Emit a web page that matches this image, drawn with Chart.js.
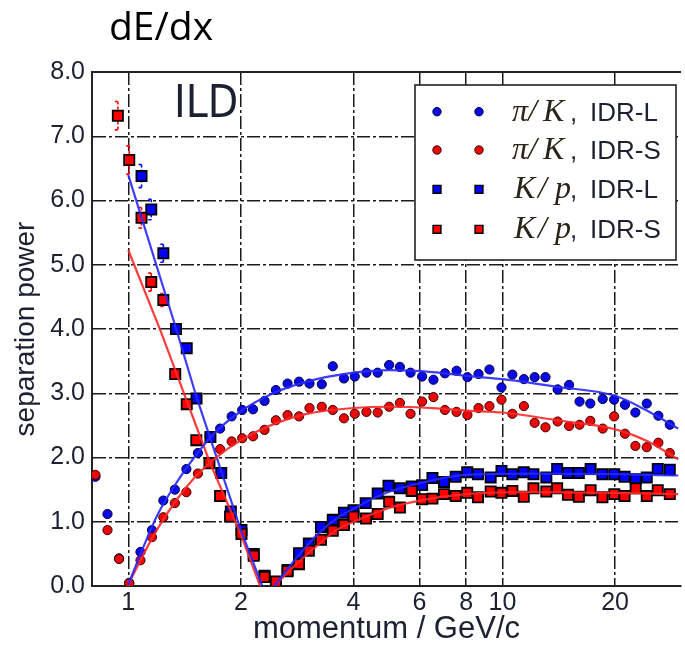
<!DOCTYPE html>
<html><head><meta charset="utf-8">
<script src="https://cdn.jsdelivr.net/npm/chart.js@4.4.0/dist/chart.umd.min.js"></script>
<style>html,body{margin:0;padding:0;background:#fff;overflow:hidden;width:685px;height:653px}canvas{display:block}</style>
</head><body>
<canvas id="c" width="690" height="653"></canvas>
<script>
// ---------- data ----------
const xTickValues = [1, 2, 4, 6, 8, 10, 20];
const xTickLabels = ['1', '2', '4', '6', '8', '10', '20'];
const yTickValues = [0, 1, 2, 3, 4, 5, 6, 7, 8];

// pi/K separation, circles
const piK_momentum = [0.817,0.880,0.945,1.006,1.078,1.157,1.241,1.332,1.430,1.535,1.648,1.760,1.889,2.016,2.155,2.313,2.480,2.665,2.860,3.050,3.290,3.520,3.770,4.030,4.330,4.640,4.980,5.320,5.680,6.100,6.540,7.020,7.540,8.060,8.630,9.230,9.940,10.63,11.41,12.19,13.03,14.04,15.07,16.07,17.17,18.53,19.88,21.25,22.66,24.30,26.10,28.00];
const piK_IDR_L = [1.70,1.12,0.43,0.05,0.53,0.87,1.33,1.50,1.82,2.07,2.33,2.45,2.64,2.74,2.75,2.88,3.05,3.15,3.18,3.15,3.14,3.42,3.23,3.26,3.32,3.32,3.44,3.41,3.32,3.26,3.21,3.31,3.35,3.25,3.30,3.37,3.09,3.29,3.22,3.25,3.25,3.06,3.13,2.87,2.84,2.91,2.90,2.82,2.70,2.84,2.65,2.51];
const piK_IDR_S = [1.73,0.87,0.42,0.04,0.40,0.76,1.07,1.29,1.46,1.75,1.92,2.13,2.25,2.30,2.33,2.43,2.58,2.66,2.64,2.77,2.79,2.74,2.61,2.68,2.71,2.70,2.79,2.85,2.68,2.87,2.94,2.74,2.71,2.66,2.77,2.80,2.90,2.68,2.80,2.54,2.47,2.56,2.49,2.51,2.57,2.45,2.64,2.37,2.18,2.16,2.23,2.07];

// K/p separation, squares
const Kp_L_momentum = [1.085,1.152,1.241,1.341,1.433,1.522,1.658,1.772,1.880,2.007,2.164,2.313,2.481,2.665,2.860,3.038,3.273,3.520,3.770,4.000,4.310,4.640,4.960,5.320,5.720,6.100,6.500,6.980,7.500,8.050,8.600,9.300,9.940,10.63,11.40,12.10,13.10,14.00,14.96,16.00,17.20,18.50,19.90,21.20,22.70,24.30,26.00,28.00];
const Kp_IDR_L = [6.38,5.86,5.18,4.00,3.70,2.92,2.32,1.76,1.16,0.87,0.50,0.16,0.05,0.25,0.51,0.66,0.92,1.03,1.14,1.18,1.29,1.44,1.56,1.52,1.55,1.57,1.68,1.62,1.70,1.77,1.74,1.69,1.79,1.74,1.77,1.74,1.69,1.82,1.76,1.76,1.82,1.74,1.74,1.70,1.66,1.69,1.82,1.81];
const Kp_IDR_L_err = [0.18,0.16,0.14,0.07];
const Kp_S_momentum = [0.938,1.006,1.085,1.152,1.241,1.335,1.433,1.520,1.648,1.760,1.871,2.007,2.164,2.313,2.481,2.665,2.860,3.038,3.273,3.520,3.770,4.000,4.320,4.640,4.980,5.320,5.720,6.100,6.500,6.980,7.500,8.050,8.600,9.300,9.940,10.63,11.40,12.10,13.10,14.00,14.96,16.00,17.20,18.50,19.90,21.20,22.70,24.30,26.00,28.00];
const Kp_IDR_S = [7.32,6.63,5.73,4.73,4.45,3.30,2.83,2.27,1.91,1.40,1.08,0.81,0.47,0.14,0.07,0.23,0.34,0.55,0.72,0.86,0.95,1.08,1.05,1.12,1.31,1.22,1.48,1.35,1.36,1.43,1.40,1.45,1.38,1.47,1.45,1.48,1.39,1.52,1.47,1.52,1.42,1.39,1.49,1.38,1.43,1.40,1.52,1.40,1.49,1.43];
const Kp_IDR_S_err = [0.22,0.22,0.16,0.14,0.10];

// fitted curves
const piK_fit_momentum = [1.0,1.1,1.2,1.35,1.5,1.7,2.0,2.4,3.0,4.0,5.0,6.5,8.0,10,14,20,24.5,29.5];
const piK_fit_L = [0.02,0.62,1.12,1.62,2.00,2.38,2.72,2.98,3.18,3.32,3.36,3.33,3.27,3.22,3.10,2.96,2.72,2.45];
const piK_fit_S = [0.02,0.50,0.90,1.35,1.68,1.98,2.27,2.50,2.68,2.77,2.79,2.77,2.73,2.70,2.58,2.44,2.25,1.97];
const Kp_fall_L_momentum = [1.0,1.34,1.52,2.0,2.28];
const Kp_fall_L = [6.40,4.02,2.95,0.87,0];
const Kp_fall_S_momentum = [1.0,1.22,1.65,2.0,2.25];
const Kp_fall_S = [5.23,3.97,1.93,0.80,0];
const Kp_rise_momentum = [2.46,2.8,3.2,3.6,4.0,4.5,5.0,6.0,8.0,12,20,29.5];
const Kp_rise_L = [0,0.42,0.80,1.05,1.20,1.36,1.47,1.60,1.73,1.75,1.74,1.72];
const Kp_rise_S = [0,0.33,0.63,0.87,1.00,1.12,1.22,1.33,1.43,1.46,1.45,1.43];

const legendLabels = [
  {math:['π','/','K'], text:'IDR-L'},
  {math:['π','/','K'], text:'IDR-S'},
  {math:['K','/','p'], text:'IDR-L'},
  {math:['K','/','p'], text:'IDR-S'}
];

// ---------- styles ----------
const BLUE = '#0a0ae6', RED = '#e80808';
const LBLUE = 'rgba(40,40,255,0.9)', LRED = 'rgba(255,40,40,0.9)';
const TXT = '#1d2030';
const SANS = "'Liberation Sans', Arial, sans-serif";

function pts(xs, ys) { return xs.map((x, i) => ({x: x, y: ys[i]})); }

function lineDS(xs, ys, color, smooth) {
  return {data: pts(xs, ys), showLine: true, pointRadius: 0, pointHoverRadius: 0,
    borderColor: color, borderWidth: 2.2, tension: smooth ? 0.4 : 0,
    cubicInterpolationMode: smooth ? 'monotone' : 'default', fill: false};
}
function markDS(xs, ys, fill, edge, style, r, bw, errs) {
  return {data: pts(xs, ys), showLine: false, pointStyle: style, pointRadius: r,
    pointHoverRadius: r, pointBackgroundColor: fill, pointBorderColor: edge,
    pointBorderWidth: bw, errors: errs || [], errColor: fill};
}

const markerStyles = [
  {style: 'circle', fill: BLUE, edge: '#00003a'},
  {style: 'circle', fill: RED, edge: '#3a0000'},
  {style: 'rect', fill: '#0000ff', edge: '#000'},
  {style: 'rect', fill: '#ff0000', edge: '#000'}
];

const overlay = {
  id: 'overlay',
  beforeDatasetsDraw(chart) {
    const ctx = chart.ctx, xs = chart.scales.x, ys = chart.scales.y;
    ctx.save();
    chart.data.datasets.forEach(ds => {
      (ds.errors || []).forEach((e, i) => {
        if (!e) return;
        const p = ds.data[i];
        const px = xs.getPixelForValue(p.x);
        const y1 = ys.getPixelForValue(p.y + e), y2 = ys.getPixelForValue(p.y - e);
        ctx.strokeStyle = ds.errColor; ctx.lineWidth = 1.6;
        ctx.setLineDash([3, 2]);
        ctx.beginPath(); ctx.moveTo(px, y1); ctx.lineTo(px, y2); ctx.stroke();
        ctx.setLineDash([]);
        ctx.beginPath();
        ctx.moveTo(px - 3, y1); ctx.lineTo(px, y1);
        ctx.moveTo(px - 3, y2); ctx.lineTo(px, y2);
        ctx.stroke();
      });
    });
    ctx.restore();
  },
  afterDraw(chart) {
    const ctx = chart.ctx, a = chart.chartArea;
    ctx.save();
    ctx.strokeStyle = '#222'; ctx.lineWidth = 2;
    ctx.beginPath(); ctx.moveTo(a.left, a.top); ctx.lineTo(a.right, a.top); ctx.stroke();

    ctx.fillStyle = '#000';
    ctx.textBaseline = 'alphabetic'; ctx.textAlign = 'left';
    ctx.font = "39px 'Open Sans', 'Liberation Sans', sans-serif";
    ctx.fillText('dE/dx', 109, 40);
    ctx.fillStyle = TXT;
    ctx.font = "300 44px 'Liberation Sans Narrow', 'DejaVu Sans Condensed', 'Liberation Sans', sans-serif";
    ctx.fillText('ILD', 174, 117);

    // legend
    const bx = 415, by = 85, bw = 261, bh = 175;
    ctx.fillStyle = '#fff'; ctx.fillRect(bx, by, bw, bh);
    ctx.strokeStyle = '#222'; ctx.lineWidth = 1.6; ctx.strokeRect(bx, by, bw, bh);
    const rowsY = [111.7, 150, 189.3, 229.3];
    const mx = [437, 479];
    legendLabels.forEach((lab, k) => {
      const st = markerStyles[k], y = rowsY[k];
      const legR = st.style === 'rect' ? 5.6 : 4.2;
      mx.forEach(x => {
        ctx.fillStyle = st.fill; ctx.strokeStyle = st.edge; ctx.lineWidth = st.style === 'rect' ? 1.4 : 1;
        Chart.helpers.drawPoint(ctx, {pointStyle: st.style, radius: legR, borderWidth: ctx.lineWidth, rotation: 0}, x, y);
      });
      const base = y + 9;
      ctx.fillStyle = '#2a2418';
      ctx.font = "italic 32px 'Liberation Serif', 'DejaVu Serif', serif";
      const isPi = lab.math[0] === 'π';
      const pos = isPi ? [512, 528, 543] : [514, 538, 555];
      lab.math.forEach((m, j) => ctx.fillText(m, pos[j], base));
      ctx.fillStyle = TXT;
      ctx.font = "26px " + SANS;
      ctx.fillText(',', 570, base);
      ctx.fillText(lab.text, 590, base);
    });
    ctx.restore();
  }
};

const TICKFONT = {family: SANS, size: 25};

new Chart(document.getElementById('c'), {
  type: 'scatter',
  data: {datasets: [
    lineDS(piK_fit_momentum, piK_fit_L, LBLUE, true),
    lineDS(piK_fit_momentum, piK_fit_S, LRED, true),
    lineDS(Kp_fall_L_momentum, Kp_fall_L, LBLUE, false),
    lineDS(Kp_fall_S_momentum, Kp_fall_S, LRED, false),
    lineDS(Kp_rise_momentum, Kp_rise_L, LBLUE, true),
    lineDS(Kp_rise_momentum, Kp_rise_S, LRED, true),
    markDS(Kp_S_momentum, Kp_IDR_S, '#ff0000', '#000', 'rect', 7.2, 1.8, Kp_IDR_S_err),
    markDS(Kp_L_momentum, Kp_IDR_L, '#0000ff', '#000', 'rect', 7.2, 1.8, Kp_IDR_L_err),
    markDS(piK_momentum, piK_IDR_S, RED, '#3a0000', 'circle', 4.6, 1),
    markDS(piK_momentum, piK_IDR_L, BLUE, '#00003a', 'circle', 4.6, 1)
  ]},
  options: {
    responsive: false, animation: false, devicePixelRatio: 1,
    layout: {padding: {top: 72, left: 0, right: 0, bottom: 0}},
    plugins: {legend: {display: false}, tooltip: {enabled: false}, title: {display: false}},
    scales: {
      x: {
        type: 'logarithmic', min: 0.8, max: 30,
        afterBuildTicks: s => { s.ticks = xTickValues.map(v => ({value: v})); },
        afterFit: s => { s.height = 67; },
        grid: {color: '#1a1a1a', lineWidth: 1.5, drawTicks: false},
        border: {display: true, color: '#222', width: 2, dash: [13, 3, 3, 3]},
        ticks: {autoSkip: false, maxRotation: 0, minRotation: 0, padding: 2, color: TXT, font: TICKFONT,
          callback: v => { const i = xTickValues.indexOf(v); return i >= 0 ? xTickLabels[i] : ''; }},
        title: {display: true, text: 'momentum / GeV/c', color: TXT,
          font: {family: SANS, size: 31}, padding: {top: 0, bottom: 5}}
      },
      y: {
        min: 0, max: 8,
        afterBuildTicks: s => { s.ticks = yTickValues.map(v => ({value: v})); },
        afterFit: s => { s.width = 92; },
        grid: {color: '#1a1a1a', lineWidth: 1.5, drawTicks: false},
        border: {display: true, color: '#222', width: 2, dash: [13, 3, 3, 3]},
        ticks: {padding: 7, color: TXT, font: TICKFONT, callback: v => Number(v).toFixed(1)},
        title: {display: true, text: 'separation power', color: TXT,
          font: {family: SANS, size: 28}, padding: {top: 9, bottom: 0}}
      }
    }
  },
  plugins: [overlay]
});
</script>
</body></html>
